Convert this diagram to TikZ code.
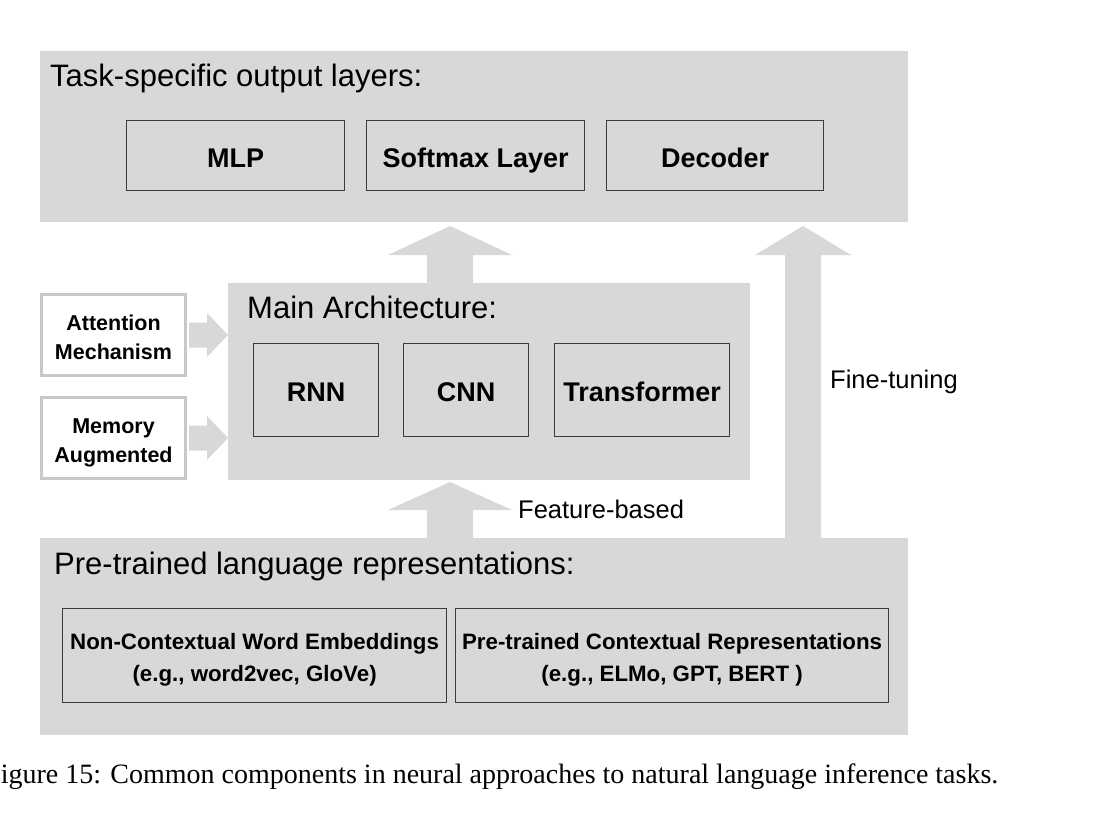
\documentclass[tikz,border=0pt]{standalone}
\usepackage{fontspec}
\setmainfont{Liberation Sans}
\newfontfamily\capfont{Liberation Serif}
\usetikzlibrary{calc}
\definecolor{panel}{RGB}{216,216,216}
\definecolor{edge}{RGB}{60,60,60}
\definecolor{sideedge}{RGB}{200,200,200}
\newcommand\upblock[5]{\fill[arrowfill] let \p1=(#1),\p2=(#2) in (\x1-#3,\y1) -- (\x1-#3,\y2-#5) -- (\x1-#4,\y2-#5) -- (\x2,\y2) -- (\x1+#4,\y2-#5) -- (\x1+#3,\y2-#5) -- (\x1+#3,\y1) -- cycle;}
\newcommand\rightblock[5]{\fill[arrowfill] let \p1=(#1),\p2=(#2) in (\x1,\y1-#3) -- (\x2-#5,\y1-#3) -- (\x2-#5,\y1-#4) -- (\x2,\y2) -- (\x2-#5,\y1+#4) -- (\x2-#5,\y1+#3) -- (\x1,\y1+#3) -- cycle;}
\begin{document}
\begin{tikzpicture}[x=1pt,y=-1pt,
  panelbox/.style={fill=panel,draw=none,anchor=north west,inner sep=0pt},
  paneltitle/.style={anchor=base west,inner sep=0pt,font=\fontsize{31}{36}\selectfont},
  itembox/.style={draw=edge,line width=1.2pt,fill=panel,anchor=north west,inner sep=0pt,align=center,text height=23.5pt,text depth=0pt,font=\bfseries\fontsize{27}{31}\selectfont},
  reprbox/.style={draw=edge,line width=1.2pt,fill=panel,anchor=north west,inner sep=0pt,align=center,text height=52pt,text depth=0pt,font=\bfseries\fontsize{22.3}{32}\selectfont},
  sidebox/.style={draw=sideedge,line width=3pt,fill=white,inner sep=0pt,align=center,minimum width=144pt,minimum height=81pt,text height=48pt,text depth=0pt,font=\bfseries\fontsize{21.5}{29}\selectfont},
  arrowfill/.style={fill=panel},
  label/.style={inner sep=0pt,anchor=base west,font=\fontsize{25.5}{30}\selectfont}]
\useasboundingbox (0,0) rectangle (1104,832);

% panels
\node[panelbox,minimum width=868pt,minimum height=171pt] (top) at (40,51) {};
\node[paneltitle] (toptitle) at (50,87) {Task-specific output layers:};
\node[itembox,minimum width=218pt,minimum height=70pt] (mlp) at (126,120) {MLP};
\node[itembox,minimum width=218pt,minimum height=70pt] (softmax) at (366,120) {Softmax Layer};
\node[itembox,minimum width=217pt,minimum height=70pt] (decoder) at (606,120) {Decoder};

\node[panelbox,minimum width=522pt,minimum height=197pt] (main) at (228,283) {};
\node[paneltitle] (maintitle) at (247,318) {Main Architecture:};
\node[itembox,minimum width=125pt,minimum height=93pt] (rnn) at (253,343) {RNN};
\node[itembox,minimum width=125pt,minimum height=93pt] (cnn) at (403,343) {CNN};
\node[itembox,minimum width=175pt,minimum height=93pt] (trans) at (554,343) {Transformer};

\node[sidebox] (att) at (113.5,335) {Attention\\Mechanism};
\node[sidebox] (mem) at (113.5,438) {Memory\\Augmented};

\node[panelbox,minimum width=868pt,minimum height=197pt] (bottom) at (40,538) {};
\node[paneltitle] (bottomtitle) at (54,574) {Pre-trained language representations:};
\node[reprbox,minimum width=384pt,minimum height=94pt] (noncontext) at (62,608) {Non-Contextual Word Embeddings\\(e.g., word2vec, GloVe)};
\node[reprbox,minimum width=433pt,minimum height=94pt] (context) at (455,608) {Pre-trained Contextual Representations\\(e.g., ELMo, GPT, BERT )};

% block arrows
\coordinate (a1s) at (450,283);
\coordinate (a1e) at (450,226);
\upblock{a1s}{a1e}{23pt}{62pt}{29pt}
\coordinate (a2s) at (450,538);
\coordinate (a2e) at (450,482);
\upblock{a2s}{a2e}{23pt}{62pt}{28pt}
\coordinate (a3s) at (803,538);
\coordinate (a3e) at (803,226);
\upblock{a3s}{a3e}{18pt}{48pt}{29pt}
\coordinate (a4s) at ($(att.east)+(2,0)$);
\coordinate (a4e) at (main.west |- att.east);
\rightblock{a4s}{a4e}{12.5pt}{22pt}{21pt}
\coordinate (a5s) at ($(mem.east)+(2,0)$);
\coordinate (a5e) at (main.west |- mem.east);
\rightblock{a5s}{a5e}{12.5pt}{22pt}{21pt}

\node[label] (ft) at (830,388) {Fine-tuning};
\node[label] (fb) at (518,518) {Feature-based};

\node[anchor=base west,inner sep=0pt,font=\capfont\fontsize{28}{32}\selectfont] (caption) at (-15,783) {Figure 15: Common components in neural approaches to natural language inference tasks.};
\end{tikzpicture}
\end{document}
